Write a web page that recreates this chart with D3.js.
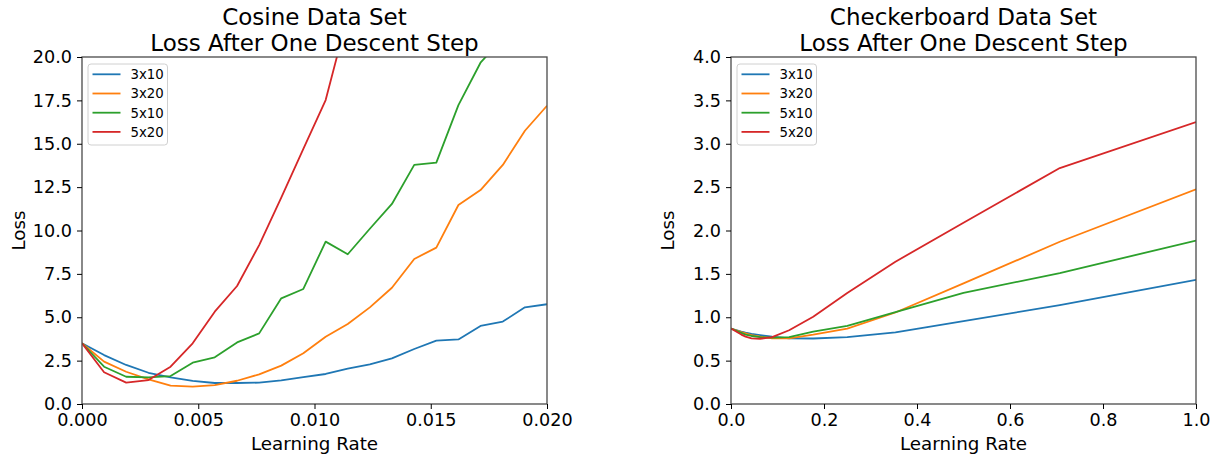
<!DOCTYPE html>
<html lang="en">
<head>
<meta charset="UTF-8">
<script src="https://d3js.org/d3.v7.min.js"></script>
<title>Loss After One Descent Step</title>
<style>
body { margin: 0; background: #fff; }
svg text { font-family: 'DejaVu Sans', sans-serif; fill: #000; }
.tick line { stroke: #000; }
.domain { display: none; }
</style>
</head>
<body>
<svg id="canvas" width="1217" height="457"></svg>
<script>
// series names + colours
let names = ['3x10', '3x20', '5x10', '5x20']
let colors = ['#1f77b4', '#ff7f0e', '#2ca02c', '#d62728']

// cosine data set (learning rate 0 .. 0.02)
let lrCos = [0, 0.00095, 0.00190, 0.00286, 0.00381, 0.00476, 0.00571, 0.00667, 0.00762, 0.00857, 0.00952,
             0.01048, 0.01143, 0.01238, 0.01333, 0.01429, 0.01524, 0.01619, 0.01714, 0.01810, 0.01905, 0.02]
let cos3x10 = [3.5, 2.82, 2.25, 1.8, 1.54, 1.33, 1.21, 1.21, 1.23, 1.36, 1.55, 1.73, 2.04, 2.29, 2.63, 3.17, 3.65, 3.72, 4.5, 4.75, 5.57, 5.75]
let cos3x20 = [3.5, 2.44, 1.86, 1.42, 1.06, 1.0, 1.09, 1.34, 1.71, 2.21, 2.92, 3.88, 4.61, 5.57, 6.7, 8.36, 9.01, 11.47, 12.33, 13.78, 15.75, 17.19]
let cos5x10 = [3.5, 2.15, 1.57, 1.54, 1.61, 2.38, 2.69, 3.55, 4.07, 6.09, 6.63, 9.36, 8.63, 10.1, 11.53, 13.78, 13.91, 17.23, 19.67, 21.1]
let cos5x20 = [3.5, 1.83, 1.23, 1.38, 2.15, 3.5, 5.32, 6.8, 9.16, 11.9, 14.7, 17.52, 22.4]

// checkerboard data set (learning rate 0 .. 1)
let lrChk = [0, 0.0221, 0.03125, 0.0442, 0.0625, 0.0884, 0.125, 0.1768, 0.25, 0.3536, 0.5, 0.7071, 1.0]
let chk3x10 = [0.87, 0.835, 0.822, 0.807, 0.795, 0.776, 0.757, 0.755, 0.772, 0.826, 0.955, 1.14, 1.43]
let chk3x20 = [0.87, 0.83, 0.815, 0.795, 0.776, 0.757, 0.757, 0.80, 0.87, 1.055, 1.39, 1.87, 2.475]
let chk5x10 = [0.87, 0.82, 0.80, 0.784, 0.77, 0.765, 0.77, 0.833, 0.90, 1.06, 1.28, 1.51, 1.883]
let chk5x20 = [0.87, 0.80, 0.776, 0.757, 0.752, 0.77, 0.85, 1.006, 1.28, 1.64, 2.09, 2.72, 3.25]

// tick values
let cosXTicks = [0, 0.005, 0.01, 0.015, 0.02]
let cosYTicks = [0, 2.5, 5, 7.5, 10, 12.5, 15, 17.5, 20]
let chkXTicks = [0, 0.2, 0.4, 0.6, 0.8, 1.0]
let chkYTicks = [0, 0.5, 1, 1.5, 2, 2.5, 3, 3.5, 4]

let svg = d3.select('#canvas')
let plotTop = 57
let plotBottom = 404

let drawPanel = (opt) => {
    let xScale = d3.scaleLinear().domain(opt.xDomain).range([opt.left, opt.right])
    let yScale = d3.scaleLinear().domain(opt.yDomain).range([plotBottom, plotTop])

    let g = svg.append('g')

    g.append('clipPath')
        .attr('id', opt.id)
        .append('rect')
        .attr('x', opt.left)
        .attr('y', plotTop)
        .attr('width', opt.right - opt.left)
        .attr('height', plotBottom - plotTop)

    let line = d3.line()
        .x((d) => xScale(d[0]))
        .y((d) => yScale(d[1]))

    opt.series.forEach((vals, i) => {
        let pts = vals.map((v, j) => [opt.xs[j], v])
        g.append('path')
            .datum(pts)
            .attr('d', line)
            .attr('fill', 'none')
            .attr('stroke', colors[i])
            .attr('stroke-width', 1.8)
            .attr('stroke-linejoin', 'round')
            .attr('clip-path', 'url(#' + opt.id + ')')
    })

    // frame
    g.append('rect')
        .attr('x', opt.left)
        .attr('y', plotTop)
        .attr('width', opt.right - opt.left)
        .attr('height', plotBottom - plotTop)
        .attr('fill', 'none')
        .attr('stroke', '#4a4a4a')
        .attr('stroke-width', 1.3)

    let xAxis = d3.axisBottom(xScale)
        .tickValues(opt.xTicks)
        .tickFormat(d3.format(opt.xFormat))
        .tickSize(5)
        .tickPadding(5)
    let yAxis = d3.axisLeft(yScale)
        .tickValues(opt.yTicks)
        .tickFormat(d3.format('.1f'))
        .tickSize(5)
        .tickPadding(5)

    g.append('g')
        .attr('transform', 'translate(0,' + plotBottom + ')')
        .call(xAxis)
        .call((a) => a.selectAll('text').style('font-size', '17.6px'))
    g.append('g')
        .attr('transform', 'translate(' + opt.left + ',0)')
        .call(yAxis)
        .call((a) => a.selectAll('text').style('font-size', '17.6px'))
    g.selectAll('.tick line').attr('stroke-width', 1)

    let cx = (opt.left + opt.right) / 2

    // title, two lines
    opt.title.forEach((t, i) => {
        g.append('text')
            .attr('x', cx)
            .attr('y', 24.5 + i * 26.5)
            .attr('text-anchor', 'middle')
            .style('font-size', '23px')
            .text(t)
    })

    g.append('text')
        .attr('x', cx)
        .attr('y', 450)
        .attr('text-anchor', 'middle')
        .style('font-size', '18.3px')
        .text('Learning Rate')

    g.append('text')
        .attr('transform', 'translate(' + (opt.left - 57) + ',' + ((plotTop + plotBottom) / 2) + ') rotate(-90)')
        .attr('text-anchor', 'middle')
        .style('font-size', '18.3px')
        .text('Loss')

    // legend
    let lx = opt.left + 6
    let leg = g.append('g')
    leg.append('rect')
        .attr('x', lx)
        .attr('y', 64)
        .attr('width', 79.5)
        .attr('height', 81)
        .attr('rx', 3)
        .attr('fill', 'rgba(255,255,255,0.8)')
        .attr('stroke', '#d0d0d0')
    names.forEach((n, i) => {
        let ly = 74.3 + i * 19.2
        leg.append('line')
            .attr('x1', lx + 4.5)
            .attr('x2', lx + 32.5)
            .attr('y1', ly)
            .attr('y2', ly)
            .attr('stroke', colors[i])
            .attr('stroke-width', 1.8)
        leg.append('text')
            .attr('x', lx + 42.5)
            .attr('y', ly + 4.8)
            .style('font-size', '13.3px')
            .text(n)
    })
}

drawPanel({
    id: 'clipCos', left: 82, right: 547,
    xDomain: [0, 0.02], yDomain: [0, 20],
    xs: lrCos, series: [cos3x10, cos3x20, cos5x10, cos5x20],
    xTicks: cosXTicks, yTicks: cosYTicks, xFormat: '.3f',
    title: ['Cosine Data Set', 'Loss After One Descent Step']
})

drawPanel({
    id: 'clipChk', left: 731, right: 1196,
    xDomain: [0, 1], yDomain: [0, 4],
    xs: lrChk, series: [chk3x10, chk3x20, chk5x10, chk5x20],
    xTicks: chkXTicks, yTicks: chkYTicks, xFormat: '.1f',
    title: ['Checkerboard Data Set', 'Loss After One Descent Step']
})
</script>
</body>
</html>
